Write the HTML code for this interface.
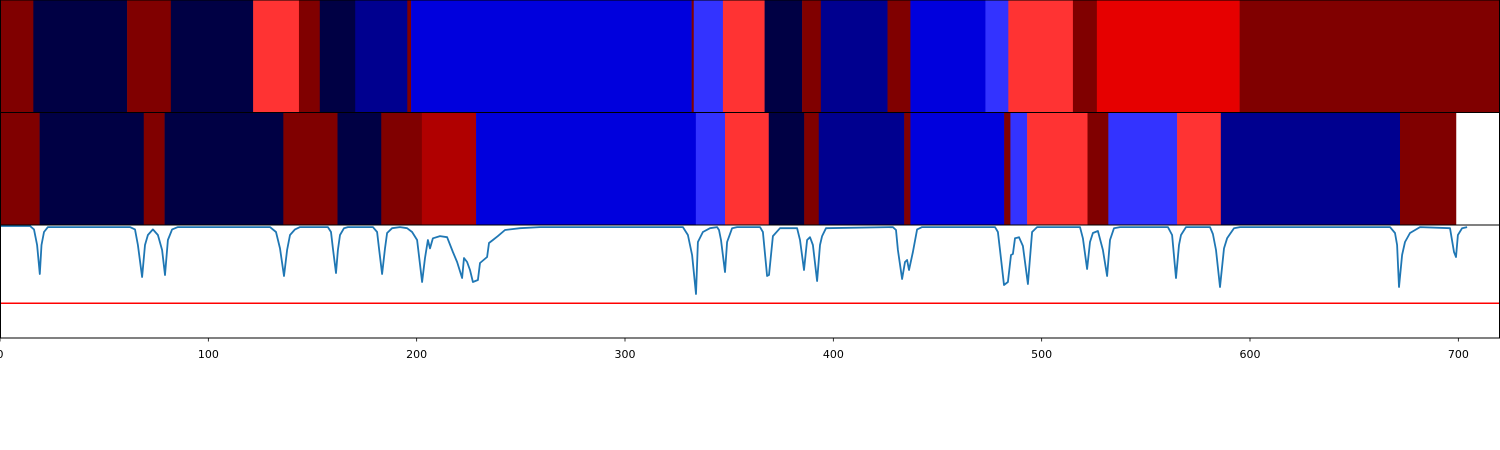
<!DOCTYPE html>
<html><head><meta charset="utf-8"><style>
html,body{margin:0;padding:0;background:#fff;}
svg{display:block;font-family:"DejaVu Sans","Liberation Sans",sans-serif;}
</style></head><body>
<svg id="chart" width="1500" height="450" xmlns="http://www.w3.org/2000/svg">
<g id="rows"></g>
<g id="linepanel"></g>
<g id="axis"></g>
</svg>
<script>
const topBounds = [0,16,61,82,121.5,143.5,153.5,170.5,195.5,197.3,332,333,347,367,385,394,426,437,473,484,515,526.5,595,720];
const topColors = ['#800000','#000044','#800000','#000044','#ff3333','#800000','#000044','#00008f','#800000','#0000dd','#800000','#3333ff','#ff3333','#000044','#800000','#00008f','#800000','#0000dd','#3333ff','#ff3333','#800000','#e60000','#800000'];
const botBounds = [0,19,69,79,136,162,183,202.5,228.5,334,348,369,386,393,434,437,482,485,493,522,532,565,586,672,699,720];
const botColors = ['#800000','#000044','#800000','#000044','#800000','#000044','#800000','#b00000','#0000dd','#3333ff','#ff3333','#000044','#800000','#00008f','#800000','#0000dd','#800000','#3333ff','#ff3333','#800000','#3333ff','#ff3333','#00008f','#800000','#ffffff'];
const frames = [0,14.4,16.3,17.8,19.1,19.9,21.1,23,62.4,64.8,66.2,68.2,69.6,71,73.4,75.8,77.8,79.2,80.6,82.6,85.4,129.6,132.5,134.4,136.3,137.8,139.2,141.6,144,157.4,158.9,159.8,161.3,162.2,163.2,165.1,167,179,181,181.9,183.4,184.8,185.8,188.2,192,195.4,197.8,200.2,202.6,204,205.4,206.4,207.8,211.2,214.6,217.4,219.4,221.8,222.7,224.2,225.6,227,229.4,230.4,233.8,234.7,236.6,239,242.4,249.6,259.2,327.8,330.2,332.2,334.1,335,337.4,340.8,344.2,345.1,346.1,348,349,351.4,353.8,364.8,366.2,368.2,369.1,371,374.4,382.6,384,385.9,387.4,388.8,390.2,392.2,393.6,394.6,396.5,428.6,430.1,431,433,434.4,435.4,436.3,438.2,440.2,442.6,477.6,479,480,481.9,483.8,485.3,486.2,487.2,489.1,491,493.4,495.4,497.8,518.4,519.8,521.8,523.2,524.6,527,529.4,531.4,532.8,534.7,537.6,560.6,562.6,564.5,565.9,566.9,569.3,580.8,582.2,583.7,585.6,587.5,589,590.4,592.3,595.2,667.2,669.6,670.6,671.5,673,674.4,676.8,681.6,696,697.9,698.9,699.8,701.8,704.2];
const values = [1,1,.97,.83,.571,.83,.946,.99,.99,.97,.83,.545,.83,.92,.97,.92,.786,.5625,.875,.97,.99,.99,.946,.80,.554,.786,.92,.97,.99,.99,.946,.80,.58,.786,.92,.98,.99,.99,.946,.80,.571,.80,.9375,.98,.99,.98,.946,.875,.5,.714,.875,.80,.89,.91,.90,.768,.679,.536,.714,.679,.607,.5,.518,.67,.723,.848,.875,.91,.964,.98,.99,.99,.92,.741,.393,.857,.946,.98,.99,.964,.875,.589,.857,.98,.99,.99,.946,.554,.5625,.91,.98,.98,.875,.607,.875,.90,.83,.509,.83,.91,.98,.99,.964,.786,.527,.679,.696,.607,.768,.97,.99,.99,.946,.786,.473,.5,.741,.75,.89,.90,.821,.482,.946,.99,.99,.89,.616,.857,.9375,.955,.786,.554,.875,.98,.99,.99,.92,.536,.83,.92,.99,.99,.929,.786,.455,.80,.89,.929,.98,.99,.99,.9375,.83,.455,.741,.857,.9375,.99,.98,.768,.723,.92,.98,.99];
const threshold = [0.31];
const tickValues = [0,100,200,300,400,500,600,700];
const tickLabels = ['0','100','200','300','400','500','600','700'];

const NS='http://www.w3.org/2000/svg';
const W=1500, XMAX=720;
const x = f => f*W/XMAX;
const y = v => 338 - v*112;
function mk(tag, attrs, parent){const e=document.createElementNS(NS,tag);for(const k in attrs)e.setAttribute(k,attrs[k]);parent.appendChild(e);return e;}
const rows=document.getElementById('rows');
function drawRow(bounds, colors, y0, h, name){
  for(let i=0;i<colors.length;i++){
    const r=mk('rect',{x:x(bounds[i]),y:y0,width:Math.max(0,x(bounds[i+1])-x(bounds[i]))+0.3,height:h,fill:colors[i]},rows);
    
    
  }
  const b=mk('rect',{x:0.5,y:y0,width:W-1,height:h,fill:'none',stroke:'#000','stroke-width':1},rows);
  
  
}
drawRow(topBounds, topColors, 0, 112.5, 'prediction-row');
drawRow(botBounds, botColors, 112.5, 112.5, 'ground-truth-row');
const lp=document.getElementById('linepanel');
const th=mk('line',{x1:0,x2:W,y1:y(threshold[0]),y2:y(threshold[0]),stroke:'#ff0000','stroke-width':1.5},lp);


let d='';
for(let i=0;i<frames.length;i++) d+=(i?'L':'M')+x(frames[i]).toFixed(1)+','+y(values[i]).toFixed(1);
const pl=mk('path',{d:d,fill:'none',stroke:'#1f77b4','stroke-width':1.8,'stroke-linejoin':'round'},lp);


const fr=mk('rect',{x:0.5,y:225,width:W-1,height:113,fill:'none',stroke:'#000','stroke-width':1},lp);


const ax=document.getElementById('axis');
tickValues.forEach((t,i)=>{
  const tl=mk('line',{x1:x(t),x2:x(t),y1:338,y2:341.5,stroke:'#000','stroke-width':0.8},ax);
  
  
  const tx=mk('text',{x:x(t),y:358,'text-anchor':'middle','font-size':'11px',fill:'#000'},ax);
  tx.textContent=tickLabels[i];
  
  
});
</script>
</body></html>
